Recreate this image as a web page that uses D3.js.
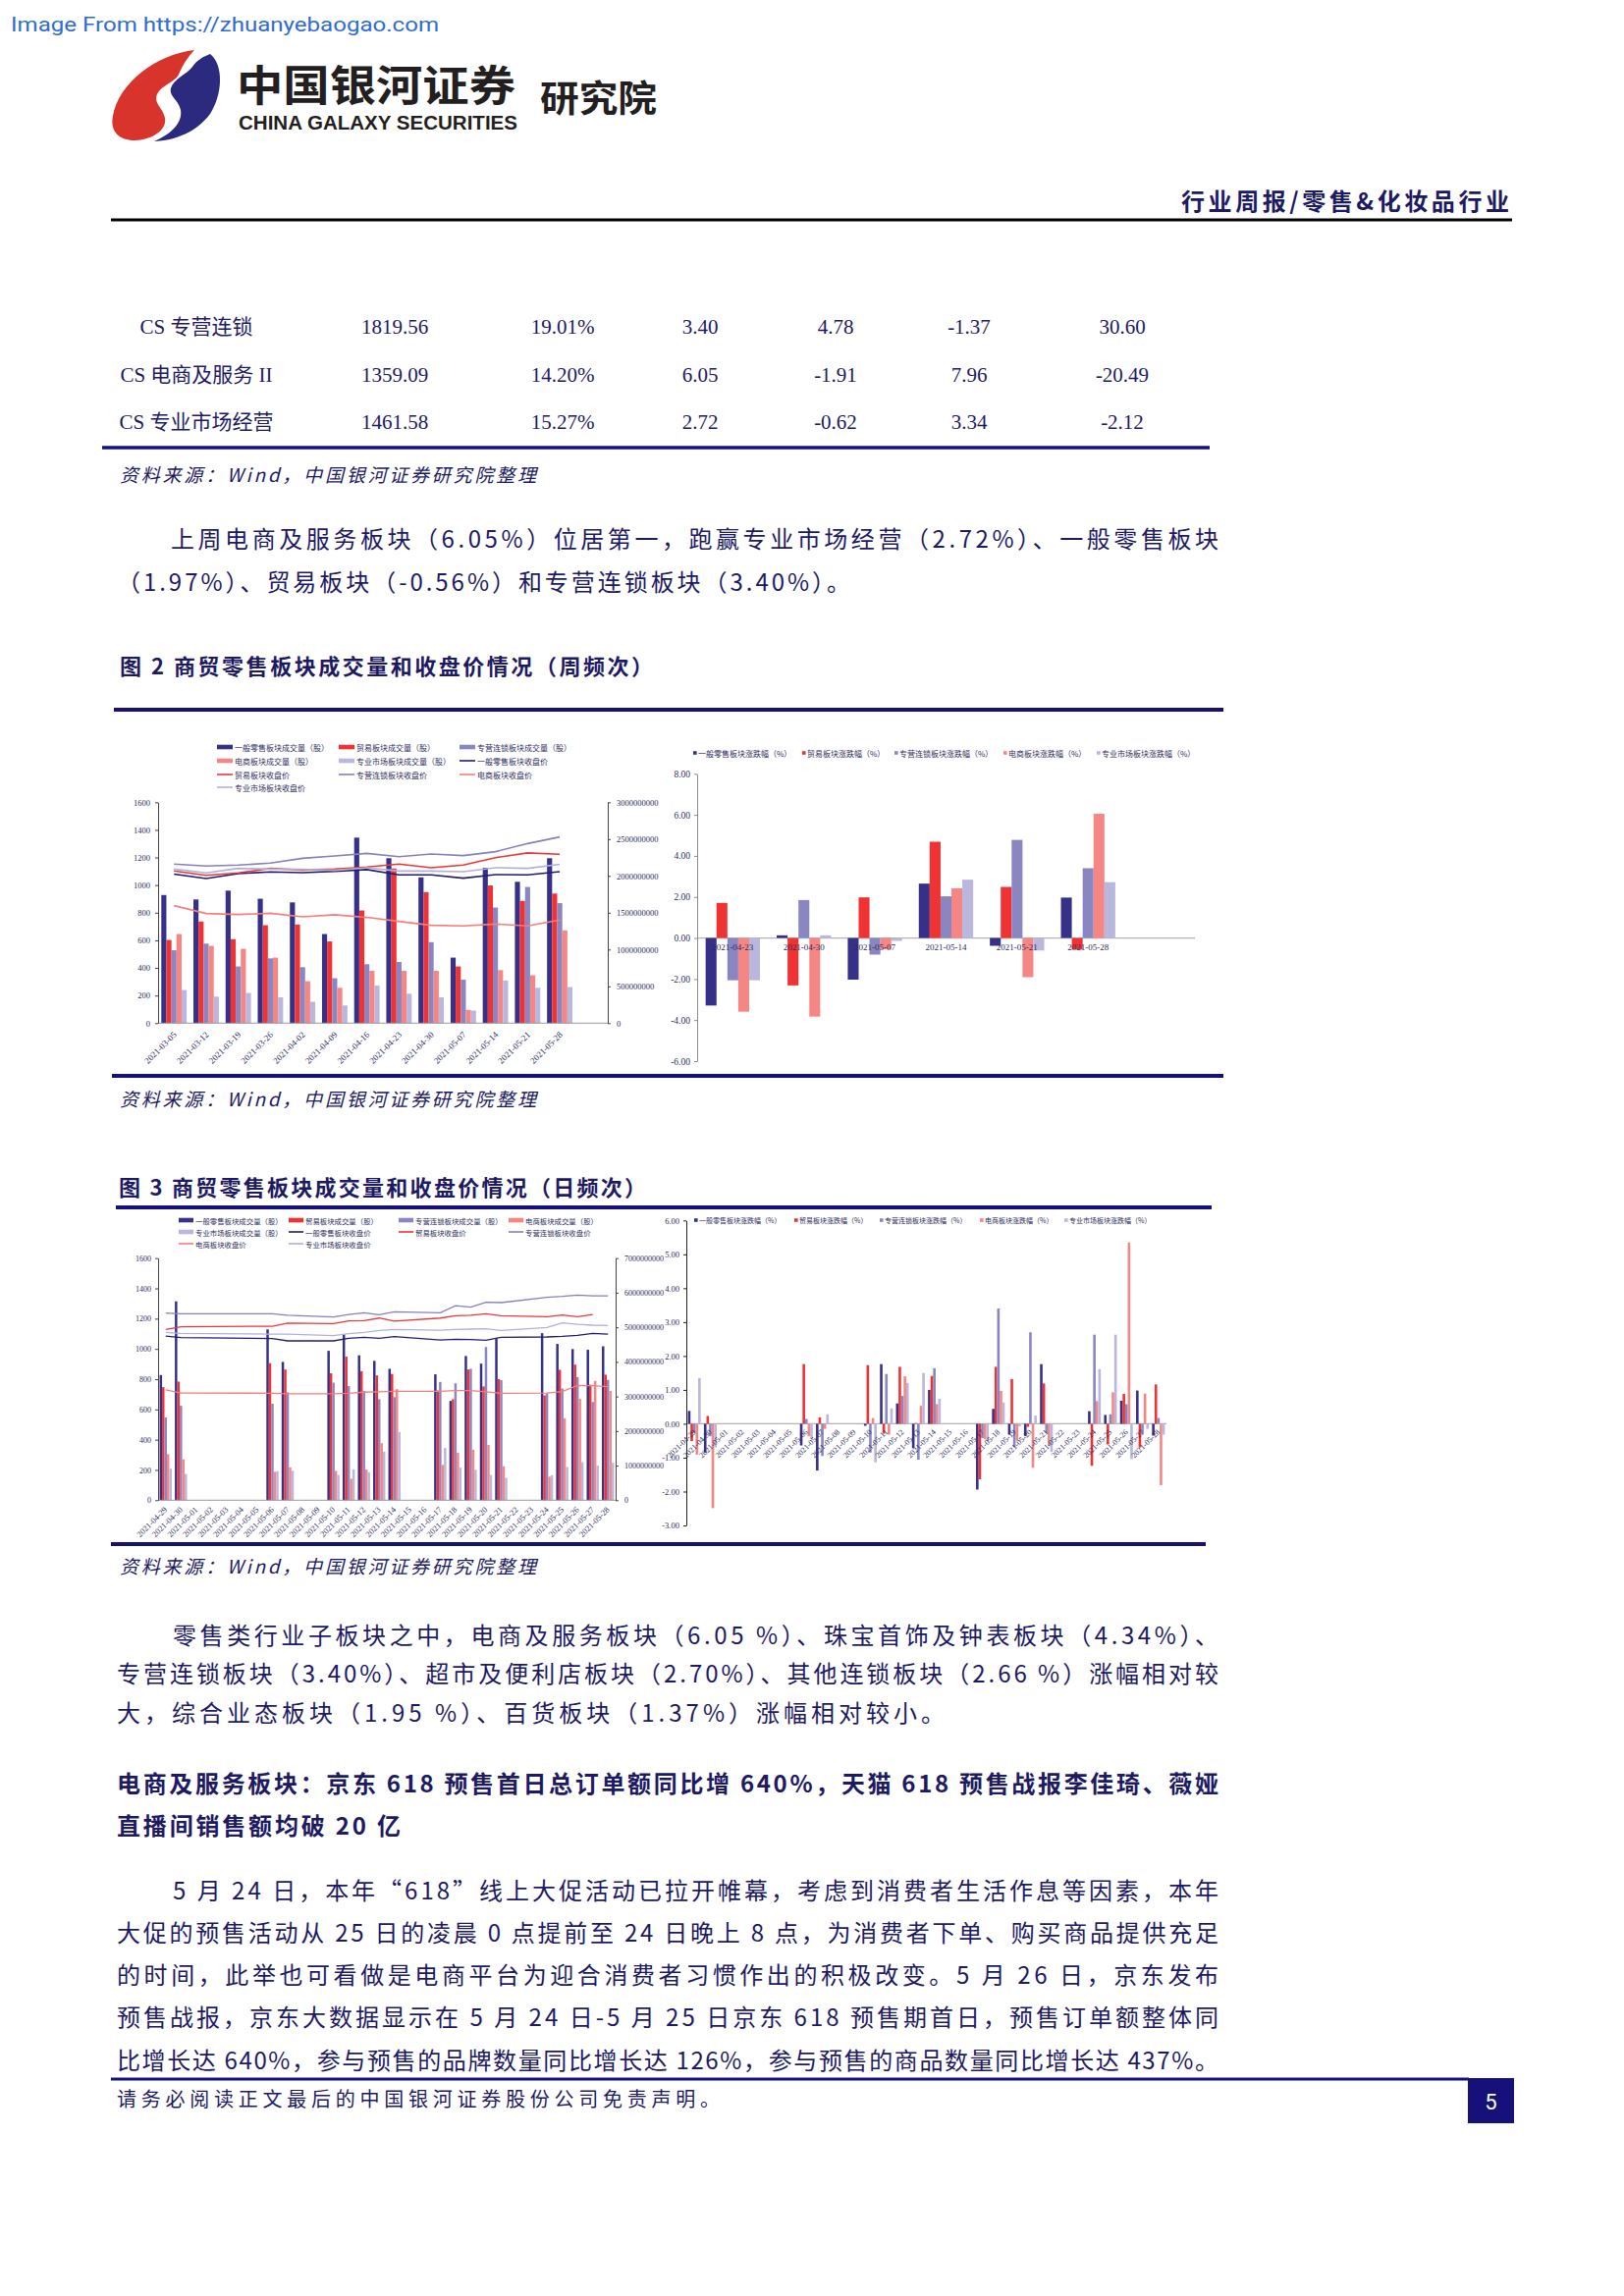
<!DOCTYPE html>
<html>
<head>
<meta charset="utf-8">
<script src="https://cdn.jsdelivr.net/npm/d3@7"></script>
<style>
  body { margin: 0; background: #fff; }
  svg { display: block; }
</style>
</head>
<body>
<div id="page"></div>
<script>
// ---------- data ----------
var sectors = ["一般零售", "贸易", "专营连锁", "电商", "专业市场"];

var tableRows = [
  ["CS 专营连锁", "1819.56", "19.01%", "3.40", "4.78", "-1.37", "30.60"],
  ["CS 电商及服务 II", "1359.09", "14.20%", "6.05", "-1.91", "7.96", "-20.49"],
  ["CS 专业市场经营", "1461.58", "15.27%", "2.72", "-0.62", "3.34", "-2.12"]
];

// figure 2, weekly (volume in 亿股, close in points)
var weekDates = ["2021-03-05", "2021-03-12", "2021-03-19", "2021-03-26", "2021-04-02", "2021-04-09",
  "2021-04-16", "2021-04-23", "2021-04-30", "2021-05-07", "2021-05-14", "2021-05-21", "2021-05-28"];
var weekVolRetail = [17.4, 16.8, 18.0, 16.9, 16.4, 12.1, 25.2, 22.4, 19.8, 8.9, 21.1, 19.2, 22.4];
var weekVolTrade  = [11.3, 13.8, 11.4, 13.3, 13.4, 11.1, 15.3, 21.0, 17.8, 7.7, 18.7, 16.6, 17.6];
var weekVolChain  = [9.9, 10.8, 7.7, 8.8, 7.6, 6.1, 8.0, 8.3, 11.0, 5.9, 15.7, 18.5, 16.3];
var weekVolEcom   = [12.1, 10.5, 10.1, 8.9, 5.7, 4.8, 7.1, 7.1, 7.1, 1.8, 7.2, 6.5, 12.6];
var weekVolMarket = [4.5, 3.6, 4.1, 3.5, 2.9, 2.4, 5.1, 4.0, 3.5, 1.7, 5.8, 4.8, 4.9];
var weekCloseRetail = [1079, 1048, 1083, 1095, 1090, 1100, 1112, 1074, 1074, 1050, 1076, 1074, 1097];
var weekCloseTrade  = [1102, 1071, 1088, 1121, 1109, 1116, 1131, 1152, 1126, 1145, 1199, 1233, 1223];
var weekCloseChain  = [1152, 1138, 1145, 1159, 1194, 1211, 1230, 1206, 1225, 1214, 1242, 1301, 1349];
var weekCloseEcom   = [851, 794, 787, 796, 770, 785, 766, 737, 709, 704, 718, 704, 747];
var weekCloseMarket = [1116, 1088, 1121, 1116, 1114, 1107, 1126, 1102, 1102, 1097, 1126, 1121, 1150];

// figure 2, weekly change (%)
var chgDates = ["2021-04-23", "2021-04-30", "2021-05-07", "2021-05-14", "2021-05-21", "2021-05-28"];
var chgRetail = [-3.29, 0.13, -2.03, 2.65, -0.38, 1.97];
var chgTrade  = [1.71, -2.31, 1.98, 4.69, 2.49, -0.56];
var chgChain  = [-2.06, 1.85, -0.81, 2.03, 4.78, 3.40];
var chgEcom   = [-3.59, -3.83, -0.56, 2.42, -1.91, 6.05];
var chgMarket = [-2.06, 0.13, -0.14, 2.84, -0.61, 2.72];

// figure 3, daily
var dayDates = ["2021-04-29", "2021-04-30", "2021-05-01", "2021-05-02", "2021-05-03", "2021-05-04",
  "2021-05-05", "2021-05-06", "2021-05-07", "2021-05-08", "2021-05-09", "2021-05-10", "2021-05-11",
  "2021-05-12", "2021-05-13", "2021-05-14", "2021-05-15", "2021-05-16", "2021-05-17", "2021-05-18",
  "2021-05-19", "2021-05-20", "2021-05-21", "2021-05-22", "2021-05-23", "2021-05-24", "2021-05-25",
  "2021-05-26", "2021-05-27", "2021-05-28"];
var tradeDates = ["2021-04-29", "2021-04-30", "2021-05-06", "2021-05-07", "2021-05-10", "2021-05-11",
  "2021-05-12", "2021-05-13", "2021-05-14", "2021-05-17", "2021-05-18", "2021-05-19", "2021-05-20",
  "2021-05-21", "2021-05-24", "2021-05-25", "2021-05-26", "2021-05-27", "2021-05-28"];
var dayVolRetail = [36.2, 57.5, 49.4, 40.0, 43.2, 48.0, 41.9, 40.3, 38.0, 36.4, 28.7, 41.7, 39.5, 46.8, 48.3, 45.2, 43.7, 43.5, 44.5];
var dayVolTrade  = [32.7, 34.3, 39.6, 37.8, 36.7, 41.5, 37.3, 36.1, 36.5, 31.7, 29.2, 37.8, 32.9, 35.0, 30.3, 37.7, 39.2, 33.4, 36.3];
var dayVolChain  = [23.9, 27.3, 27.9, 31.2, 34.0, 33.0, 31.6, 29.2, 29.8, 34.2, 33.8, 38.0, 44.3, 34.7, 30.9, 32.3, 35.6, 28.4, 34.8];
var dayVolEcom   = [13.3, 11.8, 8.2, 9.5, 8.5, 6.2, 8.9, 16.5, 32.1, 10.2, 13.7, 14.6, 16.0, 9.8, 6.8, 23.7, 29.3, 34.5, 31.6];
var dayVolMarket = [9.1, 7.6, 8.4, 8.5, 7.3, 8.9, 8.1, 14.0, 19.7, 15.1, 9.4, 8.8, 7.3, 6.5, 7.2, 9.6, 11.0, 10.0, 10.8];
var dayCloseRetail = [1085, 1075, 1068, 1053, 1053, 1070, 1077, 1070, 1081, 1059, 1064, 1062, 1057, 1077, 1079, 1083, 1090, 1103, 1098];
var dayCloseTrade  = [1129, 1146, 1150, 1170, 1168, 1185, 1187, 1204, 1183, 1204, 1219, 1222, 1232, 1219, 1213, 1224, 1213, 1228, null];
var dayCloseChain  = [1237, 1232, 1232, 1222, 1211, 1228, 1239, 1226, 1245, 1239, 1286, 1276, 1308, 1306, 1341, 1347, 1356, 1351, 1351];
var dayCloseEcom   = [729, 709, 707, 703, 703, 707, 714, 716, 720, 720, 724, 724, 716, 707, 709, 718, 759, 757, 750];
var dayCloseMarket = [1109, 1103, 1098, 1098, 1088, 1101, 1109, 1122, 1129, 1124, 1129, 1131, 1133, 1122, 1142, 1172, 1163, 1157, 1155];
var dayChgRetail = [0.38, -0.85, -0.64, -1.38, -0.06, 1.76, 0.60, -0.72, 1.00, -1.94, 0.44, -0.32, -0.36, 1.76, 0.37, 0.26, 0.68, 0.98, -0.35];
var dayChgTrade  = [-0.51, 0.23, 1.76, 0.19, 1.73, -0.29, 1.68, 0.02, 1.41, -1.64, 1.68, 1.32, -0.09, 1.19, -1.24, -0.61, 0.88, -0.70, 1.16];
var dayChgChain  = [-0.27, -0.37, 0.14, -0.95, -0.85, 1.47, 0.82, -1.06, 1.64, -0.42, 3.40, -0.69, 2.70, -0.27, 2.63, 0.28, 0.58, -0.32, 0.17];
var dayChgEcom   = [-0.91, -2.49, -0.37, -0.15, 0.17, -0.32, 1.40, 0.53, 0.58, -0.46, 0.97, -0.49, -1.30, -0.66, 0.67, 0.93, 5.35, 0.89, -1.81];
var dayChgMarket = [1.35, -0.70, -0.46, 0.28, -1.14, 0.45, 1.21, 1.50, 0.74, -0.51, 0.63, -0.08, 0.24, -0.83, 1.61, 2.63, -1.04, -0.15, -0.32];

// page text
var para1 = ["上周电商及服务板块（6.05%）位居第一，跑赢专业市场经营（2.72%）、一般零售板块",
  "（1.97%）、贸易板块（-0.56%）和专营连锁板块（3.40%）。"];
var para2 = ["零售类行业子板块之中，电商及服务板块（6.05 %）、珠宝首饰及钟表板块（4.34%）、",
  "专营连锁板块（3.40%）、超市及便利店板块（2.70%）、其他连锁板块（2.66 %）涨幅相对较",
  "大，综合业态板块（1.95 %）、百货板块（1.37%）涨幅相对较小。"];
var heading = ["电商及服务板块：京东 618 预售首日总订单额同比增 640%，天猫 618 预售战报李佳琦、薇娅",
  "直播间销售额均破 20 亿"];
var para3 = ["5 月 24 日，本年“618”线上大促活动已拉开帷幕，考虑到消费者生活作息等因素，本年",
  "大促的预售活动从 25 日的凌晨 0 点提前至 24 日晚上 8 点，为消费者下单、购买商品提供充足",
  "的时间，此举也可看做是电商平台为迎合消费者习惯作出的积极改变。5 月 26 日，京东发布",
  "预售战报，京东大数据显示在 5 月 24 日-5 月 25 日京东 618 预售期首日，预售订单额整体同",
  "比增长达 640%，参与预售的品牌数量同比增长达 126%，参与预售的商品数量同比增长达 437%。"];
var sourceNote = "资料来源：Wind，中国银河证券研究院整理";

// ---------- styles ----------
var W = 1654, H = 2339;
var INK = "#1d1a63", RULE = "#15107a", TICK = "#2e2c5e";
var CJK = "'Noto Sans CJK SC', sans-serif";
var NUM = "'Liberation Serif', 'Noto Sans CJK SC', serif";
var BAR_COLORS = ["#363089", "#f03232", "#8a86c2", "#f58683", "#b9b7dd"];
var LINE_COLORS = ["#221c6b", "#e8383a", "#8581bd", "#f47f7b", "#b2b0d9"];
var UNIT = 1e8; // 亿股 -> 股

var svg = d3.select("#page").append("svg").attr("width", W).attr("height", H);
svg.append("rect").attr("width", W).attr("height", H).attr("fill", "#fff");

function txt(x, y, s, o) {
  var t = svg.append("text").attr("x", x).attr("y", y).text(s)
    .attr("font-family", o.font || CJK).attr("font-size", o.size)
    .attr("fill", o.color || INK).attr("dominant-baseline", "central");
  if (o.bold) t.attr("font-weight", "bold");
  if (o.italic) t.attr("font-style", "italic");
  if (o.anchor) t.attr("text-anchor", o.anchor);
  if (o.spacing) t.attr("letter-spacing", o.spacing);
  if (o.len) t.attr("textLength", o.len).attr("lengthAdjust", o.adjust || "spacing");
  return t;
}

function rule(x1, x2, y, w, c) {
  svg.append("line").attr("x1", x1).attr("x2", x2).attr("y1", y).attr("y2", y)
    .attr("stroke", c || RULE).attr("stroke-width", w);
}

// ---------- header ----------
txt(11, 25, "Image From https://zhuanyebaogao.com", {font: "Roboto, sans-serif", size: 21, color: "#2f6bd6", len: 436, adjust: "spacingAndGlyphs"});

svg.append("path").attr("fill", "#d9342b")
  .attr("d", "M198,51 C160,55 121,84 115,118 C111,138 127,146 146,142 C160,139 170,130 168,120 C166,110 156,105 160,96 C165,86 178,84 182,76 C186,66 192,57 198,51 Z");
svg.append("path").attr("fill", "#2c2a7e")
  .attr("d", "M214,55 C228,66 227,96 214,116 C200,135 178,143 157,144 C176,136 186,124 184,112 C182,102 172,98 174,90 C177,80 190,76 196,68 C200,62 206,58 214,55 Z");
txt(241, 84, "中国银河证券", {size: 43, bold: true, color: "#231f20", len: 284, adjust: "spacingAndGlyphs"});
svg.append("text").attr("x", 243).attr("y", 132).text("CHINA GALAXY SECURITIES")
  .attr("font-family", "'Liberation Sans', Arial, sans-serif").attr("font-weight", "bold")
  .attr("font-size", 20).attr("fill", "#231f20").attr("textLength", 284).attr("lengthAdjust", "spacingAndGlyphs");
txt(550, 98, "研究院", {size: 37, bold: true, color: "#231f20", len: 119, adjust: "spacingAndGlyphs"});

txt(1537, 203, "行业周报/零售&化妆品行业", {size: 24, bold: true, anchor: "end", len: 334});
rule(113, 1540, 224, 3, "#000");

// ---------- table tail ----------
var colX = [200, 402, 573, 713, 851, 987, 1143];
tableRows.forEach(function(row, r) {
  row.forEach(function(cell, c) {
    txt(colX[c], 333 + r * 48.5, cell, {font: NUM, size: 21, anchor: "middle"});
  });
});
rule(104, 1232, 456, 3.5);
txt(122, 482, sourceNote, {size: 19, italic: true, len: 424});

// ---------- paragraphs ----------
// ends[i] == null: last line left unjustified, natural spacing
function paragraph(lines, ys, starts, ends, o) {
  lines.forEach(function(s, i) {
    var opt = {size: o.size, bold: o.bold};
    if (ends[i] != null) opt.len = ends[i] - starts[i];
    else opt.spacing = o.spacing;
    txt(starts[i], ys[i], s, opt);
  });
}
paragraph(para1, [547, 591], [174, 119], [1241, 866], {size: 24});

// ---------- combo chart (bars on right axis, closes on left axis) ----------
function combo(o) {
  var g = svg.append("g");
  var span = (o.xR - o.xL) * o.cats.length / o.slots;
  var x0 = d3.scaleBand().domain(o.cats).range([o.xL, o.xL + span]).paddingInner(o.pi).paddingOuter(o.po);
  var x1 = d3.scaleBand().domain(d3.range(o.vols.length)).range([0, x0.bandwidth()]);
  var y = d3.scaleLinear().domain([0, o.yMax]).range([o.yBot, o.yTop]);
  var y2 = d3.scaleLinear().domain([0, o.y2Max]).range([o.yBot, o.yTop]);

  o.vols.forEach(function(vals, s) {
    g.append("g").selectAll("rect").data(vals).join("rect")
      .attr("x", function(d, i) { return x0(o.barCats[i]) + x1(s); })
      .attr("y", function(d) { return y2(d * UNIT); })
      .attr("width", x1.bandwidth())
      .attr("height", function(d) { return o.yBot - y2(d * UNIT); })
      .attr("fill", BAR_COLORS[s]);
  });

  g.append("line").attr("x1", o.xL).attr("x2", o.xR).attr("y1", o.yBot).attr("y2", o.yBot)
    .attr("stroke", "#9a9a9a").attr("stroke-width", 1);

  var line = d3.line()
    .x(function(p) { return x0(p[0]) + x0.bandwidth() / 2; })
    .y(function(p) { return y(p[1]); });
  o.closes.forEach(function(vals, s) {
    var pts = vals.map(function(v, i) { return [o.barCats[i], v]; })
      .filter(function(p) { return p[1] != null; });
    g.append("path").datum(pts).attr("d", line).attr("fill", "none")
      .attr("stroke", LINE_COLORS[s]).attr("stroke-width", o.lw);
  });

  var ya = g.append("g").attr("transform", "translate(" + o.xL + ",0)")
    .call(d3.axisLeft(y).tickValues(d3.range(0, o.yMax + 1, o.yStep))
      .tickSize(3).tickSizeOuter(0).tickPadding(o.padL).tickFormat(d3.format("d")));
  var y2a = g.append("g").attr("transform", "translate(" + o.xR + ",0)")
    .call(d3.axisRight(y2).tickValues(d3.range(0, o.y2Max + 1, o.y2Step))
      .tickSize(3).tickSizeOuter(0).tickPadding(o.padR).tickFormat(d3.format("d")));
  [ya, y2a].forEach(function(a) {
    a.select(".domain").attr("stroke", "#444");
    a.selectAll(".tick line").attr("stroke", "#444");
    a.selectAll(".tick text").attr("font-family", NUM).attr("font-size", o.tickSize).attr("fill", TICK);
  });

  var xa = g.append("g").attr("transform", "translate(0," + o.yBot + ")")
    .call(d3.axisBottom(x0).tickSize(0));
  xa.select(".domain").remove();
  xa.selectAll(".tick text")
    .attr("y", 0).attr("dy", "0.35em")
    .attr("transform", "translate(" + o.lx + "," + o.ly + ") rotate(-45)")
    .style("text-anchor", "end")
    .attr("font-family", NUM).attr("font-size", o.dateSize).attr("fill", TICK);

  // legend: bars then lines
  var items = sectors.map(function(s, i) { return {kind: "bar", color: BAR_COLORS[i], label: s + "板块成交量（股）"}; })
    .concat(sectors.map(function(s, i) { return {kind: "line", color: LINE_COLORS[i], label: s + "板块收盘价"}; }));
  var nc = o.legend.cols.length;
  items.forEach(function(it, i) {
    var lx = o.legend.cols[i % nc], ly = o.legend.rows[Math.floor(i / nc)];
    if (it.kind === "bar") {
      svg.append("rect").attr("x", lx).attr("y", ly - 2.3).attr("width", o.legend.sw).attr("height", 4.6).attr("fill", it.color);
    } else {
      svg.append("line").attr("x1", lx).attr("x2", lx + o.legend.sw).attr("y1", ly).attr("y2", ly)
        .attr("stroke", it.color).attr("stroke-width", 1.6);
    }
    txt(lx + o.legend.sw + 2, ly, it.label, {size: o.legend.size, color: TICK});
  });
}

// ---------- change chart (grouped bars around zero) ----------
function change(o) {
  var g = svg.append("g");
  var span = (o.xR - o.xL) * o.cats.length / o.slots;
  var x0 = d3.scaleBand().domain(o.cats).range([o.xL, o.xL + span]).paddingInner(o.pi).paddingOuter(o.po);
  var x1 = d3.scaleBand().domain(d3.range(o.series.length)).range([0, x0.bandwidth()]);
  var y = d3.scaleLinear().domain([o.yMin, o.yMax]).range([o.yBot, o.yTop]);

  g.append("line").attr("x1", o.xL).attr("x2", o.xR).attr("y1", y(0)).attr("y2", y(0))
    .attr("stroke", "#b4b4b4").attr("stroke-width", 1.2);

  o.series.forEach(function(vals, s) {
    g.append("g").selectAll("rect").data(vals).join("rect")
      .attr("x", function(d, i) { return x0(o.barCats[i]) + x1(s); })
      .attr("y", function(d) { return Math.min(y(d), y(0)); })
      .attr("width", x1.bandwidth())
      .attr("height", function(d) { return Math.abs(y(d) - y(0)); })
      .attr("fill", BAR_COLORS[s]);
  });

  var ya = g.append("g").attr("transform", "translate(" + o.xL + ",0)")
    .call(d3.axisLeft(y).tickValues(d3.range(o.yMin, o.yMax + 0.001, o.yStep))
      .tickSize(3).tickSizeOuter(0).tickPadding(o.padL)
      .tickFormat(function(d) { return d.toFixed(2); }));
  ya.select(".domain").attr("stroke", o.axisColor);
  ya.selectAll(".tick line").attr("stroke", o.axisColor);
  ya.selectAll(".tick text").attr("font-family", NUM).attr("font-size", o.tickSize).attr("fill", TICK);

  var xa = g.append("g").attr("transform", "translate(0," + y(0) + ")")
    .call(d3.axisBottom(x0).tickSize(0));
  xa.select(".domain").remove();
  var lt = xa.selectAll(".tick text").attr("font-family", NUM).attr("font-size", o.dateSize).attr("fill", TICK);
  if (o.rotate) {
    lt.attr("y", 0).attr("dy", "0.35em")
      .attr("transform", "translate(" + o.lx + "," + o.ly + ") rotate(-45)")
      .style("text-anchor", "end");
  } else {
    lt.attr("y", o.ly).attr("dy", "0.35em");
  }

  sectors.forEach(function(s, i) {
    var lx = o.legend.xs[i], ly = o.legend.y;
    svg.append("rect").attr("x", lx).attr("y", ly - 1.8).attr("width", 3.6).attr("height", 3.6).attr("fill", BAR_COLORS[i]);
    txt(lx + 5, ly, s + "板块涨跌幅（%）", {size: o.legend.size, color: TICK});
  });
}

// ---------- figure 2 ----------
txt(122, 677, "图 2 商贸零售板块成交量和收盘价情况（周频次）", {size: 22, bold: true, len: 543});
rule(116, 1246, 723, 3.8);

combo({
  cats: weekDates, barCats: weekDates, slots: 14, pi: 0.21, po: 0.1,
  xL: 161, xR: 619, yTop: 817.3, yBot: 1042.3,
  yMax: 1600, yStep: 200, y2Max: 3e9, y2Step: 5e8, padL: 5, padR: 6,
  vols: [weekVolRetail, weekVolTrade, weekVolChain, weekVolEcom, weekVolMarket],
  closes: [weekCloseRetail, weekCloseTrade, weekCloseChain, weekCloseEcom, weekCloseMarket],
  lw: 1.6, tickSize: 8.5, dateSize: 9, lx: 1, ly: 10,
  legend: {cols: [221, 345, 468], rows: [761, 775, 789, 802], sw: 16, size: 8}
});

change({
  cats: chgDates, barCats: chgDates, series: [chgRetail, chgTrade, chgChain, chgEcom, chgMarket],
  slots: 7, pi: 0.235, po: 0.12,
  xL: 710, xR: 1217, yTop: 788.3, yBot: 1081, yMin: -6, yMax: 8, yStep: 2,
  padL: 4, tickSize: 9.5, dateSize: 9, axisColor: "#8c8c8c", rotate: false, ly: 9.5,
  legend: {xs: [706, 817, 911, 1022, 1117], y: 767, size: 8}
});

rule(114, 1246, 1096, 3.8);
txt(122, 1118, sourceNote, {size: 19, italic: true, len: 424});

// ---------- figure 3 ----------
txt(121, 1208, "图 3 商贸零售板块成交量和收盘价情况（日频次）", {size: 22, bold: true, len: 537});
rule(118, 1234, 1230, 3.8);

combo({
  cats: dayDates, barCats: tradeDates, slots: 30, pi: 0.2, po: 0.1,
  xL: 161, xR: 627, yTop: 1281.7, yBot: 1528.3,
  yMax: 1600, yStep: 200, y2Max: 7e9, y2Step: 1e9, padL: 4, padR: 6,
  vols: [dayVolRetail, dayVolTrade, dayVolChain, dayVolEcom, dayVolMarket],
  closes: [dayCloseRetail, dayCloseTrade, dayCloseChain, dayCloseEcom, dayCloseMarket],
  lw: 1.3, tickSize: 8, dateSize: 8.5, lx: 0, ly: 8,
  legend: {cols: [182, 294, 406, 518], rows: [1243, 1255, 1267], sw: 15, size: 7.4}
});

change({
  cats: dayDates, barCats: tradeDates, series: [dayChgRetail, dayChgTrade, dayChgChain, dayChgEcom, dayChgMarket],
  slots: 30, pi: 0.2, po: 0.1,
  xL: 699, xR: 1188, yTop: 1243.3, yBot: 1554, yMin: -3, yMax: 6, yStep: 1,
  padL: 4, tickSize: 8.5, dateSize: 8, axisColor: "#222", rotate: true, lx: 0, ly: 7,
  legend: {xs: [707, 809, 896, 998, 1084], y: 1243, size: 7}
});

rule(113, 1228, 1573, 3.8);
txt(122, 1594, sourceNote, {size: 19, italic: true, len: 424});

// ---------- text below figures ----------
paragraph(para2, [1664, 1703, 1743], [176, 119, 119], [1241, 1241, 962], {size: 24});
paragraph(heading, [1815, 1858], [119, 119], [1241, 408], {size: 24, bold: true});
paragraph(para3, [1924, 1967, 2010, 2053, 2097], [176, 119, 119, 119, 119], [1241, 1241, 1241, 1241, 1241], {size: 24});

// ---------- footer ----------
rule(113, 1496, 2118, 3.2);
svg.append("rect").attr("x", 1495).attr("y", 2117).attr("width", 47).attr("height", 46).attr("fill", RULE);
txt(1518.5, 2141, "5", {font: "Roboto, sans-serif", size: 22, color: "#fff", anchor: "middle"});
txt(119, 2137, "请务必阅读正文最后的中国银河证券股份公司免责声明。", {size: 20, len: 614});
</script>
</body>
</html>
